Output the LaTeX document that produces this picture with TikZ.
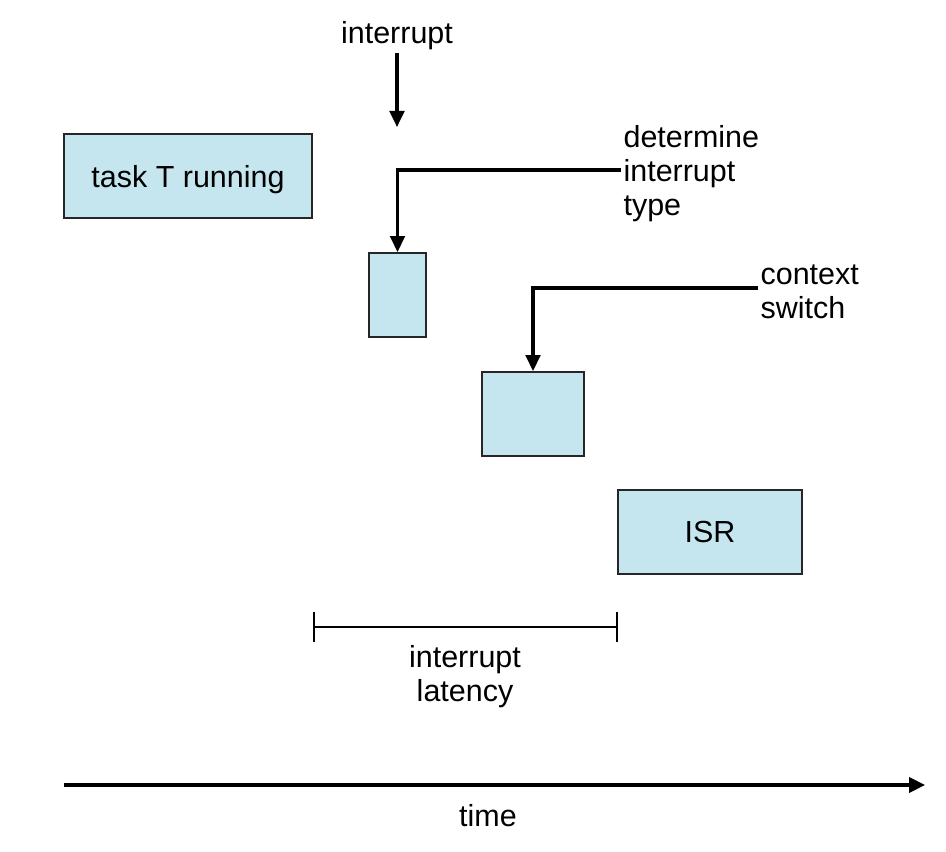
\documentclass[tikz,border=0pt]{standalone}
\usepackage{fontspec}
\setmainfont{Liberation Sans}
\usetikzlibrary{arrows.meta}

\definecolor{boxblue}{HTML}{C5E6EE}

\tikzset{
	phase/.style={draw=black!85, line width=1.6pt, fill=boxblue, inner sep=0pt},
	lbl/.style={font=\fontsize{26}{29}\selectfont, align=left, inner sep=2pt},
	pointer/.style={line width=2.6pt, -{Triangle[length=0.48cm, width=0.44cm]}}
}

\begin{document}
\begin{tikzpicture}[x=0.03cm, y=-0.03cm]
		\useasboundingbox (0,0) rectangle (946,852);
		
		% phases
		\node[phase, lbl, text depth=0pt, minimum width=7.44cm, minimum height=2.52cm] at (188,176) (task) {task T running};
		\node[phase, minimum width=1.71cm, minimum height=2.52cm] at (397.5,295) (dtype) {};
		\node[phase, minimum width=3.06cm, minimum height=2.52cm] at (533,414) (cswitch) {};
		\node[phase, lbl, text depth=0pt, minimum width=5.52cm, minimum height=2.52cm] at (710,532) (isr) {ISR};
		
		% labels
		\node[lbl] at (397,36) (intr) {interrupt};
		\node[lbl, anchor=west] at (621,174) (dtypelbl) {determine\\interrupt\\type};
		\node[lbl, anchor=west] at (758,292) (cswitchlbl) {context\\switch};
		
		\coordinate (intrend) at (397,127);
		\draw[pointer] (intr.south) -- (intrend);
		\draw[pointer] ([yshift=0.12cm]dtypelbl.west) -| (dtype.north);
		\draw[pointer] ([yshift=0.12cm]cswitchlbl.west) -| (cswitch.north);
		
		% latency
		\coordinate (lat0) at (313,627);
		\coordinate (lat1) at (618,627);
		\draw[line width=1.3pt, {Bar[width=0.9cm]}-{Bar[width=0.9cm]}] (lat0) -- (lat1);
		\node[lbl, align=center] at (465,677) (latency) {interrupt\\latency};
		
		% time axis
		\coordinate (t0) at (64,785);
		\coordinate (t1) at (925,785);
		\draw[line width=2.6pt, -{Triangle[length=0.48cm, width=0.46cm]}] (t0) -- (t1);
		\node[lbl] at (488,816) (time) {time};
	\end{tikzpicture}
\end{document}
